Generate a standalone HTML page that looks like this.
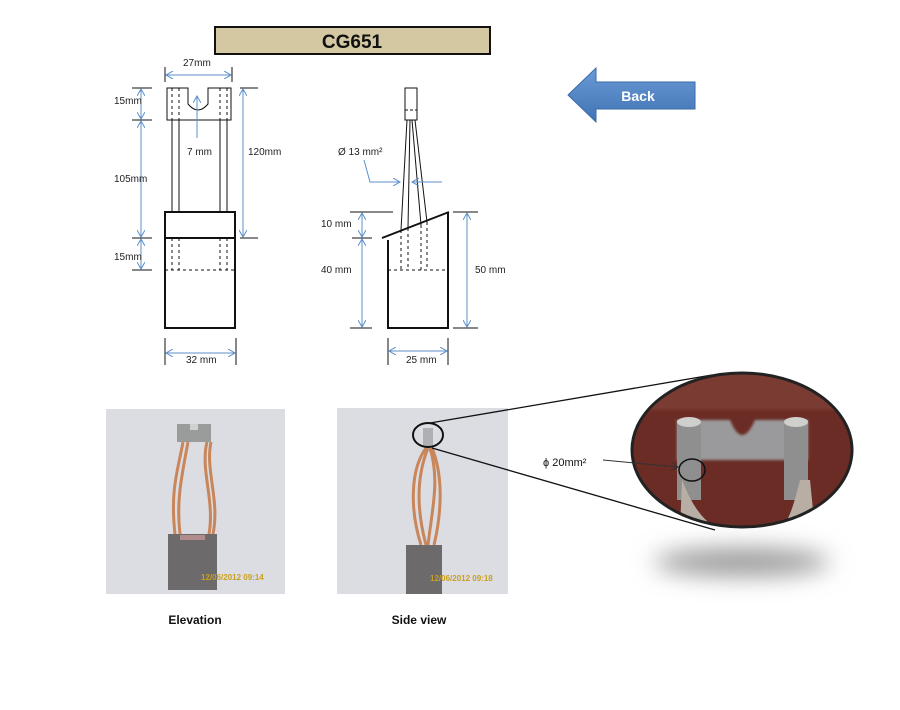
<!DOCTYPE html>
<html><head><meta charset="utf-8"><style>
html,body{margin:0;padding:0;background:#fff;}
svg{display:block;font-family:"Liberation Sans",sans-serif;}
</style></head><body>
<svg width="900" height="710" viewBox="0 0 900 710" xmlns="http://www.w3.org/2000/svg">
<defs>
<marker id="a" markerWidth="8" markerHeight="8" refX="7" refY="4" orient="auto-start-reverse" markerUnits="userSpaceOnUse"><path d="M0,0 L7,4 L0,8" fill="none" stroke="#5b8fc9" stroke-width="1"/></marker>
<marker id="k" markerWidth="8" markerHeight="8" refX="7" refY="4" orient="auto" markerUnits="userSpaceOnUse"><path d="M0,0 L7,4 L0,8" fill="none" stroke="#333" stroke-width="1"/></marker>
<linearGradient id="bg" x1="0" y1="0" x2="0" y2="1"><stop offset="0" stop-color="#6b9bd6"/><stop offset="1" stop-color="#3f73b4"/></linearGradient>
<filter id="bl" x="-50%" y="-100%" width="200%" height="300%"><feGaussianBlur stdDeviation="12"/></filter>
<filter id="b2"><feGaussianBlur stdDeviation="1.2"/></filter>
<clipPath id="ec"><ellipse cx="742" cy="450" rx="110" ry="77"/></clipPath>
</defs>

<!-- title -->
<rect x="215" y="27" width="275" height="27" fill="#d3c8a2" stroke="#111" stroke-width="2"/>
<text x="352" y="48" text-anchor="middle" font-size="19" font-weight="bold" fill="#111">CG651</text>

<!-- back arrow -->
<path d="M568,95 L596,68 L596,82 L695,82 L695,109 L596,109 L596,122 Z" fill="url(#bg)" stroke="#3a6aa8" stroke-width="1"/>
<text x="638" y="101" text-anchor="middle" font-size="14" font-weight="bold" fill="#fff">Back</text>

<!-- LEFT DRAWING -->
<g stroke="#111" fill="none" stroke-width="1">
<path d="M167,88 L188,88 L188,104 Q198,116 208,104 L208,88 L231,88 L231,120 L167,120 Z"/>
<line x1="172" y1="120" x2="172" y2="212"/><line x1="179" y1="120" x2="179" y2="212"/>
<line x1="220" y1="120" x2="220" y2="212"/><line x1="227" y1="120" x2="227" y2="212"/>
<g stroke-dasharray="3,3">
<line x1="172" y1="88" x2="172" y2="120"/><line x1="179" y1="88" x2="179" y2="120"/>
<line x1="220" y1="88" x2="220" y2="120"/><line x1="227" y1="88" x2="227" y2="120"/>
<line x1="172" y1="238" x2="172" y2="270"/><line x1="179" y1="238" x2="179" y2="270"/>
<line x1="220" y1="238" x2="220" y2="270"/><line x1="227" y1="238" x2="227" y2="270"/>
<line x1="165" y1="270" x2="235" y2="270"/>
</g>
<rect x="165" y="212" width="70" height="116" stroke-width="2"/>
<line x1="165" y1="238" x2="235" y2="238" stroke-width="2"/>
<line x1="165" y1="67" x2="165" y2="82"/><line x1="232" y1="67" x2="232" y2="82"/>
<line x1="165" y1="338" x2="165" y2="365"/><line x1="236" y1="338" x2="236" y2="365"/>
<line x1="132" y1="88" x2="152" y2="88"/><line x1="132" y1="120" x2="152" y2="120"/>
<line x1="132" y1="238" x2="152" y2="238"/><line x1="132" y1="270" x2="152" y2="270"/>
<line x1="240" y1="88" x2="258" y2="88"/><line x1="240" y1="238" x2="258" y2="238"/>
</g>
<g stroke="#5b8fc9" stroke-width="1" fill="none">
<line x1="166" y1="75" x2="231" y2="75" marker-start="url(#a)" marker-end="url(#a)"/>
<line x1="141" y1="89" x2="141" y2="119" marker-start="url(#a)" marker-end="url(#a)"/>
<line x1="141" y1="121" x2="141" y2="237" marker-start="url(#a)" marker-end="url(#a)"/>
<line x1="141" y1="239" x2="141" y2="269" marker-start="url(#a)" marker-end="url(#a)"/>
<line x1="243" y1="89" x2="243" y2="237" marker-start="url(#a)" marker-end="url(#a)"/>
<line x1="197" y1="138" x2="197" y2="96" marker-end="url(#a)"/>
<line x1="166" y1="353" x2="235" y2="353" marker-start="url(#a)" marker-end="url(#a)"/>
</g>
<g font-size="10" fill="#222">
<text x="183" y="66">27mm</text>
<text x="114" y="104">15mm</text>
<text x="114" y="182">105mm</text>
<text x="114" y="260">15mm</text>
<text x="187" y="155">7 mm</text>
<text x="248" y="155">120mm</text>
<text x="186" y="363">32 mm</text>
</g>

<!-- RIGHT DRAWING -->
<g stroke="#111" fill="none" stroke-width="1">
<rect x="405" y="88" width="12" height="32"/>
<line x1="405" y1="110" x2="417" y2="110" stroke-dasharray="3,2"/>
<line x1="407" y1="120" x2="401" y2="230"/><line x1="410" y1="120" x2="408" y2="228"/>
<line x1="412" y1="120" x2="421" y2="225"/><line x1="415" y1="120" x2="427" y2="222"/>
<g stroke-dasharray="3,3">
<line x1="401" y1="230" x2="401" y2="270"/><line x1="408" y1="228" x2="408" y2="270"/>
<line x1="421" y1="225" x2="421" y2="270"/><line x1="427" y1="222" x2="427" y2="270"/>
<line x1="388" y1="270" x2="448" y2="270"/>
</g>
<path d="M388,240 L388,328 L448,328 L448,212" stroke-width="2"/>
<line x1="382" y1="238" x2="449" y2="212" stroke-width="2"/>
<line x1="350" y1="212" x2="393" y2="212"/>
<line x1="352" y1="238" x2="372" y2="238"/>
<line x1="350" y1="328" x2="372" y2="328"/>
<line x1="453" y1="212" x2="478" y2="212"/><line x1="453" y1="328" x2="478" y2="328"/>
<line x1="388" y1="338" x2="388" y2="365"/><line x1="448" y1="338" x2="448" y2="365"/>
</g>
<g stroke="#5b8fc9" stroke-width="1" fill="none">
<line x1="362" y1="213" x2="362" y2="237" marker-start="url(#a)" marker-end="url(#a)"/>
<line x1="362" y1="239" x2="362" y2="327" marker-start="url(#a)" marker-end="url(#a)"/>
<line x1="467" y1="213" x2="467" y2="327" marker-start="url(#a)" marker-end="url(#a)"/>
<line x1="389" y1="351" x2="447" y2="351" marker-start="url(#a)" marker-end="url(#a)"/>
<path d="M364,160 L370,182 L400,182" marker-end="url(#a)"/>
<line x1="442" y1="182" x2="412" y2="182" marker-end="url(#a)"/>
</g>
<g font-size="10" fill="#222">
<text x="338" y="155">Ø 13 mm²</text>
<text x="321" y="227">10 mm</text>
<text x="321" y="273">40 mm</text>
<text x="475" y="273">50 mm</text>
<text x="406" y="363">25 mm</text>
</g>

<!-- PHOTO 1 -->
<rect x="106" y="409" width="179" height="185" fill="#dcdde2"/>
<g stroke="#c8865a" stroke-width="3" fill="none">
<path d="M183,442 C178,470 170,490 175,534"/>
<path d="M188,442 C182,475 176,500 180,534"/>
<path d="M207,442 C200,470 215,500 209,534"/>
<path d="M211,442 C205,470 220,500 213,534"/>
</g>
<rect x="177" y="424" width="34" height="18" fill="#9a9b9b"/>
<rect x="190" y="424" width="8" height="6" fill="#cfd0d2"/>
<rect x="168" y="534" width="49" height="56" fill="#6c6a6a"/>
<rect x="180" y="535" width="25" height="5" fill="#b28c8c"/>
<text x="201" y="580" font-size="8" fill="#c8a020" font-weight="bold">12/06/2012 09:14</text>

<!-- PHOTO 2 -->
<rect x="337" y="408" width="171" height="186" fill="#dcdde2"/>
<g stroke="#c8865a" stroke-width="3" fill="none">
<path d="M426,448 C410,470 410,510 421,545"/>
<path d="M428,448 C415,480 418,515 426,545"/>
<path d="M430,448 C440,480 432,510 428,545"/>
<path d="M432,448 C445,480 440,520 434,545"/>
</g>
<rect x="423" y="428" width="10" height="18" fill="#aeb0b3"/>
<rect x="406" y="545" width="36" height="49" fill="#6c6a6a"/>
<text x="430" y="581" font-size="8" fill="#c8a020" font-weight="bold">12/06/2012 09:18</text>
<ellipse cx="428" cy="435" rx="15" ry="12" fill="none" stroke="#111" stroke-width="2"/>
<line x1="430" y1="423" x2="712" y2="375" stroke="#111" stroke-width="1.3"/>
<line x1="432" y1="448" x2="715" y2="530" stroke="#111" stroke-width="1.3"/>

<text x="195" y="624" text-anchor="middle" font-size="12" font-weight="bold" fill="#111">Elevation</text>
<text x="419" y="624" text-anchor="middle" font-size="12" font-weight="bold" fill="#111">Side view</text>

<!-- ZOOM ELLIPSE -->
<ellipse cx="742" cy="562" rx="88" ry="14" fill="#999" filter="url(#bl)"/>
<g clip-path="url(#ec)">
<rect x="630" y="370" width="225" height="160" fill="#6a2c24"/>
<rect x="630" y="370" width="225" height="40" fill="#7a3a30" filter="url(#b2)"/>
<path d="M677,420 L730,420 Q742,450 755,420 L808,420 L808,460 L677,460 Z" fill="#9a9a9c" filter="url(#b2)"/>
<rect x="677" y="420" width="24" height="80" fill="#8f8f90"/>
<rect x="784" y="420" width="24" height="80" fill="#8f8f90"/>
<ellipse cx="689" cy="422" rx="12" ry="5" fill="#cfcfcc"/>
<ellipse cx="796" cy="422" rx="12" ry="5" fill="#cfcfcc"/>
<path d="M682,480 C690,500 700,520 720,530 L680,530 Z" fill="#b9aea4"/>
<path d="M800,480 C795,500 790,520 780,530 L815,530 L810,480 Z" fill="#b9aea4"/>
</g>
<ellipse cx="742" cy="450" rx="110" ry="77" fill="none" stroke="#222" stroke-width="3"/>
<ellipse cx="692" cy="470" rx="13" ry="11" fill="none" stroke="#111" stroke-width="1.5"/>
<text x="543" y="466" font-size="11" fill="#111">ϕ 20mm²</text>
<line x1="603" y1="460" x2="678" y2="467" stroke="#333" stroke-width="1" marker-end="url(#k)"/>
</svg>
</body></html>
